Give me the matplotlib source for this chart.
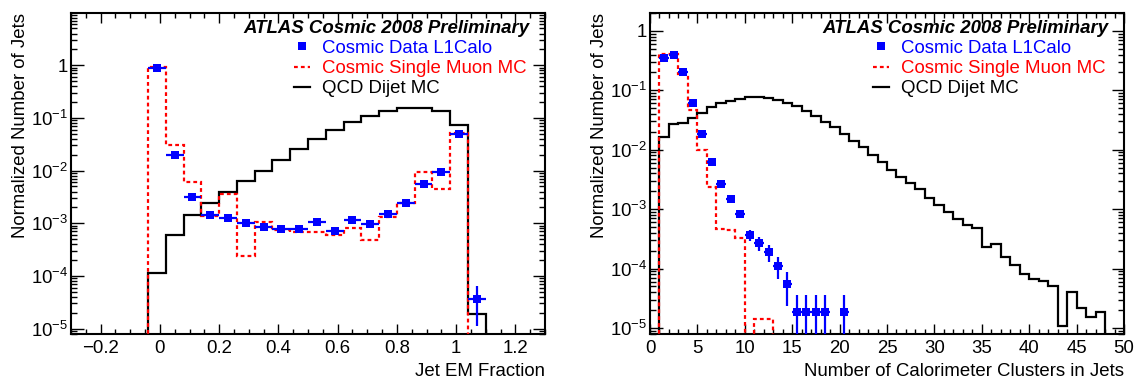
import numpy as np
import matplotlib
matplotlib.use("Agg")
import matplotlib.pyplot as plt
from matplotlib.lines import Line2D
from matplotlib.ticker import LogLocator, NullFormatter, FuncFormatter, MultipleLocator, FixedLocator

plt.rcParams['font.family'] = ['Liberation Sans', 'DejaVu Sans']
plt.rcParams['mathtext.fontset'] = 'custom'
plt.rcParams['mathtext.rm'] = 'Liberation Sans'
plt.rcParams['mathtext.it'] = 'Liberation Sans:italic'
plt.rcParams['mathtext.bf'] = 'Liberation Sans:bold'

# ---------------- data: Jet EM fraction ----------------
em_edges = np.linspace(-0.1, 1.1, 21)
em_qcd = [0, 1.13e-4, 5.86e-4, 1.44e-3, 2.47e-3, 3.88e-3, 6.45e-3, 9.97e-3, 0.0159, 0.0257,
          0.0397, 0.0587, 0.082, 0.1097, 0.133, 0.151, 0.151, 0.133, 0.074, 1.87e-5]
em_muon = [0, 0.93, 0.0305, 6.1e-3, 1.4e-3, 3.6e-3, 2.41e-4, 1.05e-3, 7.5e-4, 6.97e-4,
           6.7e-4, 6.1e-4, 8.3e-4, 4.85e-4, 1.3e-3, 2.4e-3, 9.55e-3, 4.55e-3, 0.0508, 0]
em_data_x = [-0.01, 0.05, 0.11, 0.17, 0.23, 0.29, 0.35, 0.41, 0.47, 0.53,
             0.59, 0.65, 0.71, 0.77, 0.83, 0.89, 0.95, 1.01, 1.07]
em_data = [0.904, 0.0195, 3.2e-3, 1.44e-3, 1.25e-3, 1.03e-3, 8.67e-4, 7.83e-4, 7.72e-4, 1.05e-3,
           7.18e-4, 1.16e-3, 9.6e-4, 1.51e-3, 2.4e-3, 5.57e-3, 9.55e-3, 0.0486, 3.7e-5]
em_data_err = [4.1e-3, 6.0e-4, 2.4e-4, 1.63e-4, 1.52e-4, 1.38e-4, 1.27e-4, 1.2e-4, 1.2e-4, 1.39e-4,
               1.15e-4, 1.46e-4, 1.33e-4, 1.67e-4, 2.1e-4, 3.2e-4, 4.2e-4, 9.5e-4, 2.6e-5]
em_xerr = 0.03

# ---------------- data: number of clusters ----------------
nc_edges = np.arange(0, 51, 1)
nc_qcd = [0, 0.01656, 0.0267, 0.0285, 0.0337, 0.042, 0.0515, 0.060, 0.0667, 0.0721,
          0.0779, 0.0779, 0.073, 0.0685, 0.0618, 0.055, 0.0453, 0.0373, 0.0296, 0.0238,
          0.0181, 0.0140, 0.01125, 8.0e-3, 6.3e-3, 4.56e-3, 3.53e-3, 2.72e-3, 2.19e-3, 1.51e-3,
          1.18e-3, 8.77e-4, 6.77e-4, 5.3e-4, 4.78e-4, 2.26e-4, 2.58e-4, 1.56e-4, 1.16e-4, 8.2e-5,
          6.7e-5, 6.1e-5, 5.1e-5, 1.07e-5, 4.0e-5, 2.17e-5, 1.51e-5, 1.83e-5, 0, 0]
nc_muon = [0, 0.416, 0.416, 0.185, 0.0465, 0.01, 2.4e-3, 4.6e-4, 4.4e-4, 3.25e-4,
           0, 1.42e-5, 1.42e-5, 0, 0, 0, 0, 0, 0, 0,
           0, 0, 0, 0, 0, 0, 0, 0, 0, 0,
           0, 0, 0, 0, 0, 0, 0, 0, 0, 0,
           0, 0, 0, 0, 0, 0, 0, 0, 0, 0]
nc_data_x = [1.5, 2.5, 3.5, 4.5, 5.5, 6.5, 7.5, 8.5, 9.5, 10.5,
             11.5, 12.5, 13.5, 14.5, 15.5, 16.5, 17.5, 18.5, 20.5]
nc_data = [0.343, 0.40, 0.20, 0.0618, 0.0181, 6.14e-3, 2.66e-3, 1.47e-3, 8.2e-4, 3.7e-4,
           2.67e-4, 1.87e-4, 1.11e-4, 5.55e-5, 1.83e-5, 1.83e-5, 1.83e-5, 1.83e-5, 1.83e-5]
nc_data_err = [2.5e-3, 2.7e-3, 1.9e-3, 1.05e-3, 5.8e-4, 3.3e-4, 2.2e-4, 1.6e-4, 1.2e-4, 8.2e-5,
               7.0e-5, 5.9e-5, 4.5e-5, 3.2e-5, 1.82e-5, 1.82e-5, 1.82e-5, 1.82e-5, 1.82e-5]
nc_xerr = 0.5

labels = ["Cosmic Data L1Calo", "Cosmic Single Muon MC", "QCD Dijet MC"]
label_colors = ["blue", "red", "black"]
title = "ATLAS Cosmic 2008 Preliminary"
ylab = "Normalized Number of Jets"

FS = 13.4
FLOOR = 1e-12
DASH = (0, (1.7, 1.4))
LW = 1.6

W, H = 1141, 381
fig = plt.figure(figsize=(W / 100, H / 100), dpi=100)
ax1 = fig.add_axes([71 / W, 1 - 334 / H, 474 / W, 321 / H])
ax2 = fig.add_axes([650 / W, 1 - 334 / H, 474 / W, 321 / H])


def ylog_fmt(v, pos):
    e = int(round(np.log10(v)))
    if e == 0:
        return "1"
    return r"$10^{%d}$" % e if e > 0 else r"$10^{\mathregular{-%d}}$" % (-e)


def xfmt(v, pos):
    s = "%g" % round(v, 6)
    return s.replace("-", "\u2212")


def draw(ax, edges, qcd, muon, dx, dy, dyerr, xerr, xlim, ylim, xmaj, xmin, xlabel):
    q = np.where(np.asarray(qcd) > 0, qcd, FLOOR)
    m = np.where(np.asarray(muon) > 0, muon, FLOOR)
    ax.stairs(q, edges, baseline=FLOOR, color="black", lw=LW, zorder=2)
    ax.stairs(m, edges, baseline=FLOOR, color="red", lw=LW, linestyle=DASH, zorder=3)
    ax.errorbar(dx, dy, yerr=dyerr, xerr=xerr, fmt="s", color="blue", ms=5.6,
                elinewidth=1.6, capsize=0, zorder=4, markeredgewidth=0)
    ax.set_yscale("log")
    ax.set_xlim(*xlim)
    ax.set_ylim(*ylim)
    ax.yaxis.set_major_locator(FixedLocator([1e-5, 1e-4, 1e-3, 1e-2, 1e-1, 1]))
    ax.yaxis.set_minor_locator(LogLocator(base=10, subs=np.arange(2, 10), numticks=30))
    ax.yaxis.set_major_formatter(FuncFormatter(ylog_fmt))
    ax.yaxis.set_minor_formatter(NullFormatter())
    ax.xaxis.set_major_locator(MultipleLocator(xmaj))
    ax.xaxis.set_minor_locator(MultipleLocator(xmin))
    ax.xaxis.set_major_formatter(FuncFormatter(xfmt))
    ax.tick_params(axis="both", which="both", direction="in", top=True, right=True,
                   labelsize=FS, width=1.0, colors="black")
    ax.tick_params(axis="x", which="major", length=7, pad=4)
    ax.tick_params(axis="x", which="minor", length=3.5)
    ax.tick_params(axis="y", which="major", length=9, pad=2)
    ax.tick_params(axis="y", which="minor", length=4.5)
    for s in ax.spines.values():
        s.set_linewidth(1.5)
    ax.set_xlabel(xlabel, fontsize=FS, loc="right")
    ax.xaxis.set_label_coords(1.0, -0.09)
    ax.set_ylabel(ylab, fontsize=FS, loc="top")
    ax.yaxis.set_label_coords(-0.088, 1.0)
    ax.text(0.968, 0.938, title, transform=ax.transAxes, ha="right", va="baseline",
            fontsize=FS, fontweight="bold", fontstyle="italic")
    handles = [Line2D([], [], marker="s", color="blue", ls="none", ms=5.6, markeredgewidth=0),
               Line2D([], [], color="red", lw=LW, ls=DASH),
               Line2D([], [], color="black", lw=LW)]
    ax.legend(handles, labels, loc="upper left", bbox_to_anchor=(0.47, 0.917),
              frameon=False, fontsize=FS, handlelength=0.86, handletextpad=0.68,
              labelspacing=0.18, borderpad=0, borderaxespad=0, labelcolor=label_colors)


draw(ax1, em_edges, em_qcd, em_muon, em_data_x, em_data, em_data_err, em_xerr,
     (-0.3, 1.3), (7.9e-6, 9.8), 0.2, 0.05, "Jet EM Fraction")
draw(ax2, nc_edges, nc_qcd, nc_muon, nc_data_x, nc_data, nc_data_err, nc_xerr,
     (0, 50), (7.9e-6, 2.0), 5, 1, "Number of Calorimeter Clusters in Jets")

fig.savefig("out.png", dpi=100, facecolor="white")
